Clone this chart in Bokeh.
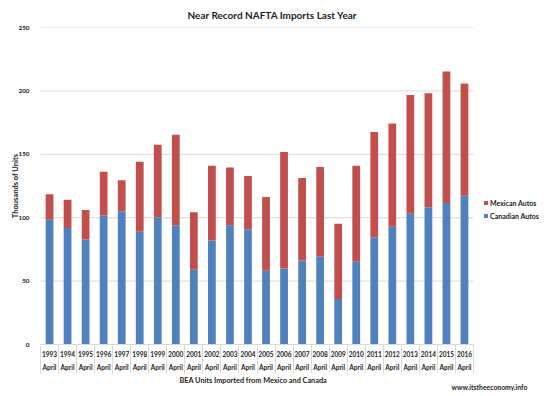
from bokeh.plotting import figure
from bokeh.models import (ColumnDataSource, Range1d, FixedTicker, LinearAxis,
                          Legend, LegendItem, Title)
from bokeh.embed import file_html
from bokeh.resources import INLINE

years = ["1993", "1994", "1995", "1996", "1997", "1998", "1999", "2000", "2001", "2002",
         "2003", "2004", "2005", "2006", "2007", "2008", "2009", "2010", "2011", "2012",
         "2013", "2014", "2015", "2016"]
month = "April"
canadian = [98.4, 91.8, 82.9, 101.8, 105.0, 89.0, 100.3, 94.0, 59.0, 82.1,
            94.0, 90.8, 58.2, 60.0, 66.3, 69.2, 35.8, 65.2, 84.5, 92.9,
            103.2, 108.2, 111.6, 117.4]
mexican = [20.0, 22.4, 23.1, 34.5, 24.5, 55.2, 57.3, 71.5, 45.2, 58.9,
           45.5, 42.1, 58.1, 91.8, 65.0, 70.8, 59.5, 75.8, 83.1, 81.3,
           93.6, 90.0, 103.7, 88.4]
y_ticks = [0, 50, 100, 150, 200, 250]

FONT = "Lato"
BLUE = "#4f81bd"
RED = "#c0504d"
GRID = "#d9d9d9"
TXT = "#222222"

n = len(years)
centers = [i + 0.5 for i in range(n)]
src = ColumnDataSource(dict(x=centers, canadian=canadian, mexican=mexican))

# plot area: category band of 433px, frame extended right to host the legend
FRAME_W = 505
CAT_W = 433
p = figure(width=545, height=396, output_backend="svg", toolbar_location=None,
           x_range=Range1d(0, n * FRAME_W / CAT_W), y_range=Range1d(0, 250),
           min_border_left=40, min_border_right=0, min_border_top=27,
           min_border_bottom=52, x_axis_type=None, y_axis_type=None)
p.outline_line_color = None
p.background_fill_color = "white"
p.border_fill_color = "white"
p.xgrid.grid_line_color = None
p.ygrid.grid_line_color = None

# horizontal gridlines limited to the category band
p.segment(x0=0, x1=n, y0=y_ticks, y1=y_ticks, line_color=GRID, line_width=1)

r = p.vbar_stack(["canadian", "mexican"], x="x", width=0.43, source=src,
                 color=[BLUE, RED], line_color=None)

# y axis
yax = LinearAxis(ticker=FixedTicker(ticks=y_ticks))
yax.axis_line_color = None
yax.major_tick_line_color = None
yax.minor_tick_line_color = None
yax.major_label_standoff = 5
yax.major_label_text_font = FONT
yax.major_label_text_font_style = "bold"
yax.major_label_text_font_size = "6.3px"
yax.major_label_text_color = TXT
yax.axis_label = "Thousands of Units"
yax.axis_label_text_font = FONT
yax.axis_label_text_font_style = "bold"
yax.axis_label_text_font_size = "7.5px"
yax.axis_label_text_color = TXT
yax.axis_label_standoff = -4
p.add_layout(yax, "left")

# years axis
xax1 = LinearAxis(ticker=FixedTicker(ticks=centers), bounds=(0, n),
                  major_label_overrides={c: y for c, y in zip(centers, years)})
xax1.axis_line_color = GRID
xax1.major_tick_line_color = None
xax1.minor_tick_line_color = None
xax1.major_label_standoff = 0
xax1.major_label_text_font = FONT
xax1.major_label_text_font_style = "bold"
xax1.major_label_text_font_size = "6.5px"
xax1.major_label_text_color = TXT
p.add_layout(xax1, "below")

# month axis
xax2 = LinearAxis(ticker=FixedTicker(ticks=centers),
                  major_label_overrides={c: month for c in centers})
xax2.axis_line_color = None
xax2.major_tick_line_color = None
xax2.minor_tick_line_color = None
xax2.major_label_standoff = -2
xax2.major_label_text_font = FONT
xax2.major_label_text_font_style = "bold"
xax2.major_label_text_font_size = "6.5px"
xax2.major_label_text_color = TXT
p.add_layout(xax2, "below")

# separator ticks between categories
bounds = list(range(n + 1))
xax3 = LinearAxis(ticker=FixedTicker(ticks=bounds),
                  major_label_overrides={b: "" for b in bounds})
xax3.axis_line_color = None
xax3.major_tick_out = 0
xax3.major_tick_in = 29
xax3.major_tick_line_color = GRID
xax3.minor_tick_line_color = None
xax3.major_label_standoff = 0
xax3.major_label_text_font_size = "1px"
p.add_layout(xax3, "below")

# titles
p.title.text = "Near Record NAFTA Imports Last Year"
p.title.align = "left"
p.title.offset = 147
p.title.text_font = FONT
p.title.text_font_style = "bold"
p.title.text_font_size = "10px"
p.title.text_color = TXT
p.title.standoff = 13

xt = Title(text="BEA Units Imported from Mexico and Canada", align="left", offset=139,
           text_font=FONT, text_font_style="bold", text_font_size="7.3px",
           text_color=TXT, standoff=0)
p.add_layout(xt, "below")
wm = Title(text="www.itstheeconomy.info", align="left", offset=411,
           text_font=FONT, text_font_style="bold", text_font_size="6.8px",
           text_color=TXT, standoff=-13)
p.add_layout(wm, "below")

# legend inside the extended frame
legend = Legend(items=[LegendItem(label="Mexican Autos", renderers=[r[1]]),
                       LegendItem(label="Canadian Autos", renderers=[r[0]])],
                location=(443, 122), glyph_width=5, glyph_height=5, label_height=13,
                label_standoff=2, padding=0, margin=0, spacing=0,
                border_line_color=None, background_fill_alpha=0,
                label_text_font=FONT, label_text_font_style="bold",
                label_text_font_size="7px", label_text_color=TXT)
p.add_layout(legend, "center")

open("out.html", "w").write(file_html(p, INLINE))
